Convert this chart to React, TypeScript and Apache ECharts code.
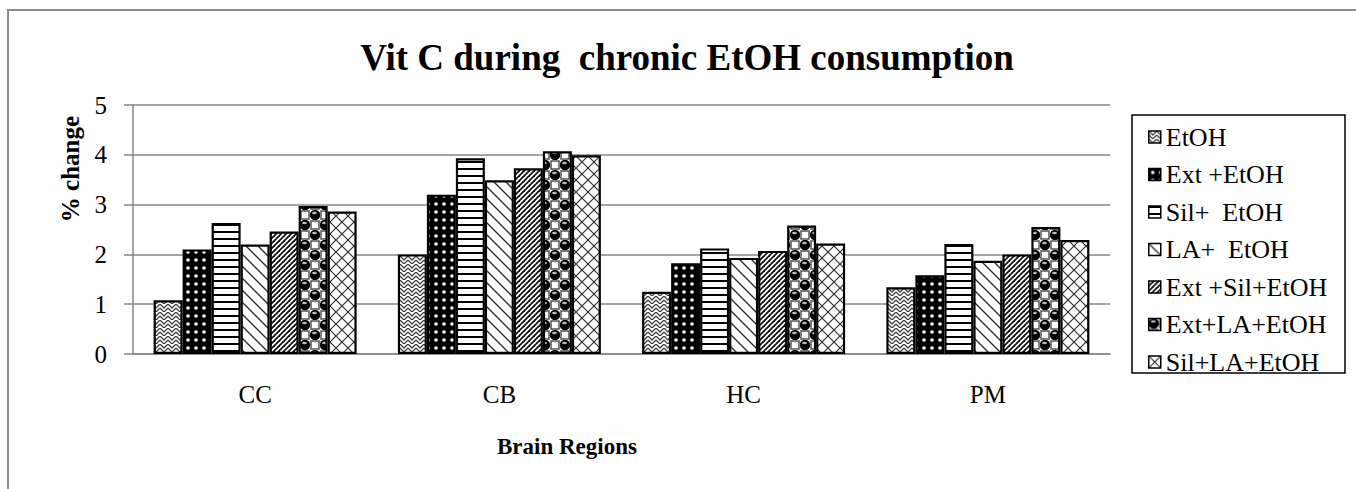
import React, { useEffect, useRef } from "react";
import * as echarts from "echarts";

const categories = ["CC", "CB", "HC", "PM"];
const seriesNames = [
  "EtOH",
  "Ext +EtOH",
  "Sil+  EtOH",
  "LA+  EtOH",
  "Ext +Sil+EtOH",
  "Ext+LA+EtOH",
  "Sil+LA+EtOH",
];
const etoh = [1.08, 2.0, 1.25, 1.34];
const extEtoh = [2.1, 3.2, 1.82, 1.58];
const silEtoh = [2.63, 3.93, 2.12, 2.21];
const laEtoh = [2.2, 3.49, 1.93, 1.87];
const extSilEtoh = [2.46, 3.73, 2.07, 2.0];
const extLaEtoh = [2.97, 4.07, 2.58, 2.55];
const silLaEtoh = [2.86, 3.99, 2.22, 2.29];
const seriesValues = [etoh, extEtoh, silEtoh, laEtoh, extSilEtoh, extLaEtoh, silLaEtoh];
const yTicks = { min: 0, max: 5, interval: 1 };

const FONT = "Liberation Serif";

function tile(w: number, h: number, draw: (ctx: CanvasRenderingContext2D) => void, bg = "#fff") {
  const c = document.createElement("canvas");
  c.width = w;
  c.height = h;
  const ctx = c.getContext("2d")!;
  ctx.fillStyle = bg;
  ctx.fillRect(0, 0, w, h);
  draw(ctx);
  return { image: c, repeat: "repeat", imageWidth: w, imageHeight: h } as any;
}

function line(ctx: CanvasRenderingContext2D, pts: number[][]) {
  ctx.beginPath();
  ctx.moveTo(pts[0][0], pts[0][1]);
  for (let i = 1; i < pts.length; i++) ctx.lineTo(pts[i][0], pts[i][1]);
  ctx.stroke();
}

function makePatterns() {
  const zigzag = tile(8, 8, (ctx) => {
    ctx.strokeStyle = "#444";
    ctx.lineWidth = 1.3;
    line(ctx, [[0, 0], [4, 4], [8, 0]]);
    line(ctx, [[0, 4], [4, 8], [8, 4]]);
  });
  const dots = tile(8, 8, (ctx) => {
    ctx.fillStyle = "#888";
    ctx.beginPath();
    ctx.arc(4, 4, 2.1, 0, Math.PI * 2);
    ctx.fill();
    ctx.fillStyle = "#fff";
    ctx.beginPath();
    ctx.arc(4, 4, 1.3, 0, Math.PI * 2);
    ctx.fill();
  }, "#000");
  const hstripe = tile(4, 7, (ctx) => {
    ctx.fillStyle = "#000";
    ctx.fillRect(0, 0, 4, 2);
  });
  const backslash = tile(12, 12, (ctx) => {
    ctx.strokeStyle = "#333";
    ctx.lineWidth = 1.4;
    line(ctx, [[-2, -2], [14, 14]]);
    line(ctx, [[-2, 10], [2, 14]]);
    line(ctx, [[10, -2], [14, 2]]);
  });
  const slash = tile(5, 5, (ctx) => {
    ctx.strokeStyle = "#111";
    ctx.lineWidth = 1.8;
    line(ctx, [[-1, 6], [6, -1]]);
    line(ctx, [[-1, 1], [1, -1]]);
    line(ctx, [[4, 6], [6, 4]]);
  });
  const spheres = tile(20, 20, (ctx) => {
    ctx.strokeStyle = "#555";
    ctx.lineWidth = 1.5;
    ctx.strokeRect(11, 1, 8, 8);
    ctx.strokeRect(1, 11, 8, 8);
    const balls = [[5, 5], [15, 15]];
    for (const [x, y] of balls) {
      ctx.fillStyle = "#000";
      ctx.beginPath();
      ctx.arc(x, y, 5.2, 0, Math.PI * 2);
      ctx.fill();
      ctx.fillStyle = "#bbb";
      ctx.beginPath();
      ctx.ellipse(x - 0.5, y - 2, 2.4, 1.3, 0, 0, Math.PI * 2);
      ctx.fill();
    }
  });
  const cross = tile(12, 12, (ctx) => {
    ctx.strokeStyle = "#333";
    ctx.lineWidth = 1.2;
    line(ctx, [[-2, -2], [14, 14]]);
    line(ctx, [[-2, 14], [14, -2]]);
  });
  return [zigzag, dots, hstripe, backslash, slash, spheres, cross];
}

export default function App() {
  const ref = useRef<HTMLDivElement>(null);
  useEffect(() => {
    document.body.style.margin = "0";
    const chart = echarts.init(ref.current!, null, { renderer: "svg" });
    const patterns = makePatterns();
    const option: any = {
      animation: false,
      backgroundColor: "#fff",
      textStyle: { fontFamily: FONT },
      grid: { left: 133, right: 246, top: 105, bottom: 135, containLabel: false },
      legend: {
        orient: "vertical",
        left: 1148,
        top: 124,
        padding: 0,
        itemWidth: 12,
        itemHeight: 12,
        itemGap: 11.5,
        icon: "rect",
        data: seriesNames,
        textStyle: { fontFamily: FONT, fontSize: 26, color: "#000" },
        itemStyle: { borderColor: "#000", borderWidth: 1.5 },
      },
      xAxis: {
        type: "category",
        data: categories,
        axisLine: { lineStyle: { color: "#868686", width: 1.5 } },
        axisTick: { show: false },
        axisLabel: { fontFamily: FONT, fontSize: 25, color: "#000", margin: 28 },
      },
      yAxis: {
        type: "value",
        min: yTicks.min,
        max: yTicks.max,
        interval: yTicks.interval,
        axisLine: { show: true, lineStyle: { color: "#868686", width: 1.5 } },
        axisTick: { show: true, length: 9, lineStyle: { color: "#868686", width: 1.5 } },
        splitLine: { lineStyle: { color: "#868686", width: 1.5 } },
        axisLabel: { fontFamily: FONT, fontSize: 25, color: "#000", margin: 26 },
      },
      series: seriesNames.map((name, i) => ({
        name,
        type: "bar",
        data: seriesValues[i],
        barWidth: 29,
        barGap: "0%",
        itemStyle: { color: patterns[i], borderColor: "#000", borderWidth: 2.2 },
        emphasis: { disabled: true },
      })),
      graphic: [
        {
          type: "rect",
          silent: true,
          z: -10,
          shape: { x: 8, y: 10, width: 1400, height: 600 },
          style: { fill: "none", stroke: "#8c8c8c", lineWidth: 2 },
        },
        {
          type: "rect",
          silent: true,
          shape: { x: 1132, y: 115, width: 213, height: 258 },
          style: { fill: "none", stroke: "#000", lineWidth: 1.5 },
        },
        {
          type: "text",
          x: 687,
          y: 57,
          style: {
            text: "Vit C during  chronic EtOH consumption",
            font: `bold 37px ${FONT}`,
            fill: "#000",
            textAlign: "center",
            textVerticalAlign: "middle",
          },
        },
        {
          type: "text",
          x: 70,
          y: 169,
          rotation: Math.PI / 2,
          style: {
            text: "% change",
            font: `bold 25px ${FONT}`,
            fill: "#000",
            textAlign: "center",
            textVerticalAlign: "middle",
          },
        },
        {
          type: "text",
          x: 567,
          y: 446,
          style: {
            text: "Brain Regions",
            font: `bold 23px ${FONT}`,
            fill: "#000",
            textAlign: "center",
            textVerticalAlign: "middle",
          },
        },
      ],
    };
    chart.setOption(option);
    return () => chart.dispose();
  }, []);
  return <div ref={ref} style={{ width: 1356, height: 489 }} />;
}
